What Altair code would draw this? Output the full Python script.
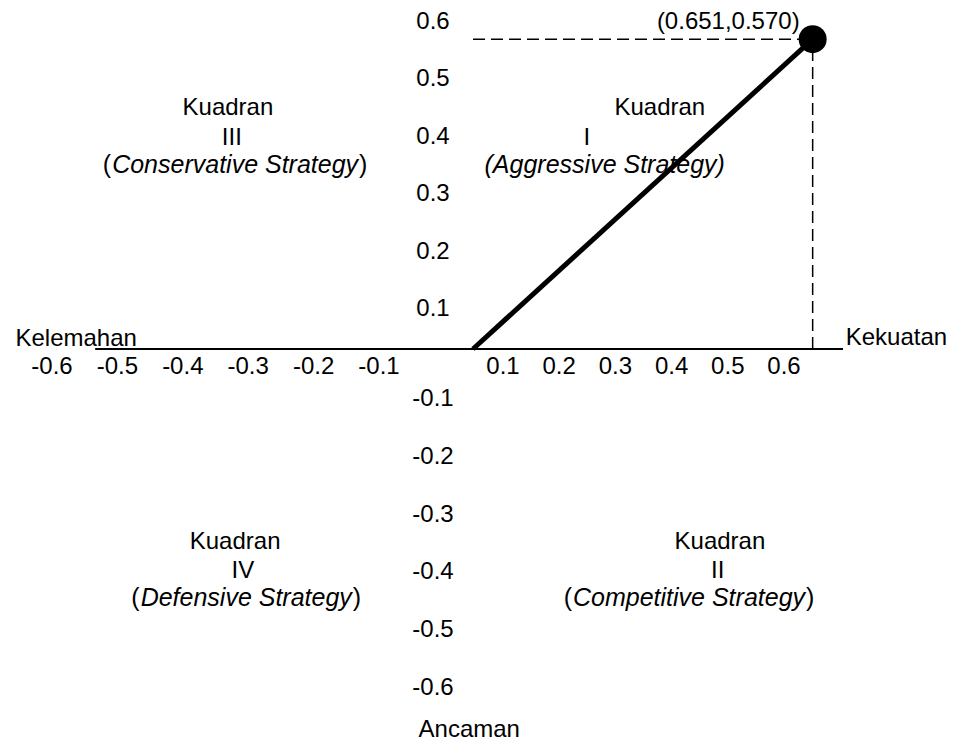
import altair as alt
import pandas as pd

# ---------------- data ----------------
x_tick_values = [-0.6, -0.5, -0.4, -0.3, -0.2, -0.1, 0.1, 0.2, 0.3, 0.4, 0.5, 0.6]
y_tick_values = [0.6, 0.5, 0.4, 0.3, 0.2, 0.1, -0.1, -0.2, -0.3, -0.4, -0.5, -0.6]
result_x = [0.0, 0.651]      # origin -> strength/weakness score
result_y = [0.0, 0.570]      # origin -> opportunity/threat score
axis_names = ["Kelemahan", "Kekuatan", "Ancaman"]
quadrant_names = ["Kuadran", "Kuadran", "Kuadran", "Kuadran"]
quadrant_numbers = ["III", "I", "IV", "II"]
quadrant_strategies = ["Conservative Strategy", "Aggressive Strategy",
                       "Defensive Strategy", "Competitive Strategy"]

FONT = "Liberation Sans"
FS = 24
FS_IT = 25

# Arial / Liberation Sans advance widths (per 1000 em) for the italic texts
CW = {'A': 667, 'C': 722, 'D': 722, 'S': 667, 'a': 556, 'c': 500, 'd': 556,
      'e': 556, 'f': 278, 'g': 556, 'i': 222, 'm': 833, 'n': 556, 'o': 556,
      'p': 556, 'r': 333, 's': 500, 't': 278, 'v': 500, 'y': 500, ' ': 278}


def text_width(s, size):
    return sum(CW.get(c, 556) for c in s) * size / 1000.0


# ---------------- tables ----------------
xticks = pd.DataFrame({"x": x_tick_values, "y": [0.0] * len(x_tick_values),
                       "t": [f"{v:.1f}" for v in x_tick_values]})
yticks = pd.DataFrame({"x": [0.0] * len(y_tick_values), "y": y_tick_values,
                       "t": [f"{v:.1f}" for v in y_tick_values]})
line_df = pd.DataFrame({"x": result_x, "y": result_y})
pt_df = pd.DataFrame({"x": [result_x[1]], "y": [result_y[1]],
                      "t": [f"({result_x[1]:.3f},{result_y[1]:.3f})"]})
dash_df = pd.DataFrame({
    "x": [0.0, result_x[1]], "x2": [result_x[1], result_x[1]],
    "y": [result_y[1], 0.0], "y2": [result_y[1], result_y[1]],
})
axis_df = pd.DataFrame({"x": [-0.534], "x2": [0.705], "y": [0.0]})

names_df = pd.DataFrame({
    "t": axis_names,
    "x": [-0.563, 0.800, -0.004],
    "y": [0.024, 0.028, -0.672],
})

qx_name = [-0.331, 0.379, -0.320, 0.486]
qx_num = [-0.325, 0.249, -0.308, 0.482]
qx_str = [-0.320, 0.281, -0.303, 0.431]
qy_name = [0.451, 0.451, -0.347, -0.347]
qy_num = [0.398, 0.398, -0.398, -0.398]
qy_str = [0.351, 0.351, -0.445, -0.445]

upright_df = pd.DataFrame({
    "t": quadrant_names + quadrant_numbers,
    "x": qx_name + qx_num,
    "y": qy_name + qy_num,
})
# quadrant I has its parentheses in italic too, the others upright
italic_text = [("(" + s + ")") if i == 1 else s for i, s in enumerate(quadrant_strategies)]
italic_df = pd.DataFrame({"t": italic_text, "x": qx_str, "y": qy_str})

# ---------------- scales ----------------
xs = alt.Scale(domain=[-0.6, -0.1, 0, 0.1, 0.6], range=[44, 371, 465, 495, 776],
               zero=False, nice=False)
ys = alt.Scale(domain=[-0.6, -0.1, 0, 0.1, 0.6], range=[680, 391, 341, 301, 14],
               zero=False, nice=False)


def X(f="x"):
    return alt.X(f"{f}:Q", scale=xs, axis=None)


def Y(f="y"):
    return alt.Y(f"{f}:Q", scale=ys, axis=None)


base_axis = alt.Chart(axis_df).mark_rule(color="black", strokeWidth=2).encode(
    x=X(), x2="x2:Q", y=Y())

dashes = alt.Chart(dash_df).mark_rule(color="black", strokeWidth=1.5,
                                      strokeDash=[12, 6]).encode(
    x=X(), x2="x2:Q", y=Y(), y2="y2:Q")

main_line = alt.Chart(line_df).mark_line(color="black", strokeWidth=5).encode(
    x=X(), y=Y())

point = alt.Chart(pt_df).mark_circle(color="black", size=784, opacity=1).encode(
    x=X(), y=Y())

pt_label = alt.Chart(pt_df).mark_text(font=FONT, fontSize=FS, align="right",
                                      baseline="middle", dx=-13, dy=-17,
                                      color="black").encode(
    x=X(), y=Y(), text="t:N")

xt = alt.Chart(xticks).mark_text(font=FONT, fontSize=FS, align="center",
                                 baseline="middle", dy=18, color="black").encode(
    x=X(), y=Y(), text="t:N")

yt = alt.Chart(yticks).mark_text(font=FONT, fontSize=FS, align="center",
                                 baseline="middle", dx=-40, color="black").encode(
    x=X(), y=Y(), text="t:N")

names = alt.Chart(names_df).mark_text(font=FONT, fontSize=FS, align="center",
                                      baseline="middle", color="black").encode(
    x=X(), y=Y(), text="t:N")

upright = alt.Chart(upright_df).mark_text(font=FONT, fontSize=FS, align="center",
                                          baseline="middle", color="black").encode(
    x=X(), y=Y(), text="t:N")

italic = alt.Chart(italic_df).mark_text(font=FONT, fontSize=FS_IT, align="center",
                                        baseline="middle", fontStyle="italic",
                                        color="black").encode(
    x=X(), y=Y(), text="t:N")

# upright parentheses around the italic strategy names (quadrants III, IV, II)
paren_layers = []
for i in [0, 2, 3]:
    half = text_width(quadrant_strategies[i], FS_IT) / 2.0
    row = pd.DataFrame({"x": [qx_str[i]], "y": [qy_str[i]]})
    paren_layers.append(
        alt.Chart(row).mark_text(text="(", font=FONT, fontSize=FS_IT, align="right",
                                 baseline="middle", dx=-half - 1,
                                 color="black").encode(x=X(), y=Y()))
    paren_layers.append(
        alt.Chart(row).mark_text(text=")", font=FONT, fontSize=FS_IT, align="left",
                                 baseline="middle", dx=half + 1,
                                 color="black").encode(x=X(), y=Y()))

chart = alt.layer(
    base_axis, dashes, main_line, point, pt_label, xt, yt, names, upright, italic,
    *paren_layers
).properties(
    width=942, height=736, autosize=alt.AutoSizeParams(type="none"), padding=0
).configure_view(stroke=None)

chart.save("out.html", embed_options={"renderer": "svg", "actions": False})
